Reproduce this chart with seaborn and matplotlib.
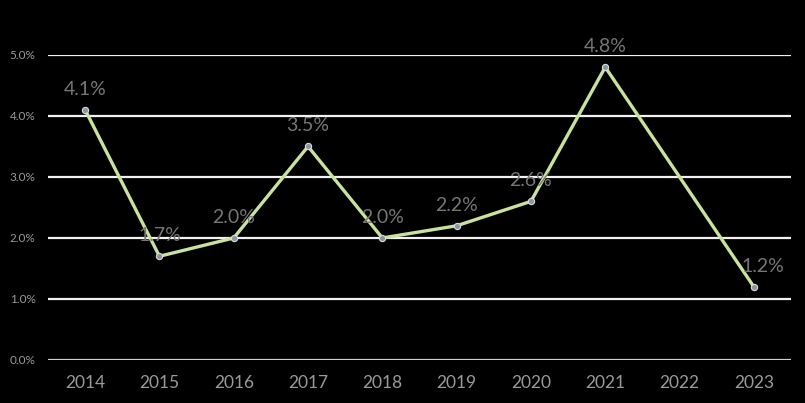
import numpy as np
import pandas as pd
import matplotlib
matplotlib.use("Agg")
import matplotlib.pyplot as plt
import seaborn as sns

# data (2022 has no point, line runs straight through)
years = [2014, 2015, 2016, 2017, 2018, 2019, 2020, 2021, 2022, 2023]
rates = [4.1, 1.7, 2.0, 3.5, 2.0, 2.2, 2.6, 4.8, None, 1.2]
y_ticks = [0.0, 1.0, 2.0, 3.0, 4.0, 5.0]

df = pd.DataFrame({"year": years, "rate": rates})
pts = df.dropna().copy()
pts["pos"] = [years.index(y) for y in pts["year"]]

sns.set_theme(style="dark")
plt.rcParams["font.family"] = ["Lato", "DejaVu Sans"]

fig = plt.figure(figsize=(8.05, 4.03), dpi=100, facecolor="black")
ax = fig.add_axes([0.0596, 0.1067, 0.923, 0.757])
ax.set_facecolor("black")

# gridlines
for t in y_ticks:
    ax.axhline(t, color="#f2f2f2" if t > 0 else "#d0d0d0", lw=1.6, zorder=1)

sns.lineplot(data=pts, x="pos", y="rate", ax=ax, color="#c9e29e", lw=2.4,
             marker="o", markersize=4.5, markerfacecolor="#8c96a0",
             markeredgecolor="#d8dde2", markeredgewidth=0.8, zorder=3)

for _, r in pts.iterrows():
    dx = 0.12 if r["year"] == 2023 else 0.0
    ax.text(r["pos"] + dx, r["rate"] + 0.2, f"{r['rate']:.1f}%",
            ha="center", va="bottom", color="#767676", fontsize=14,
            clip_on=False, zorder=4)

ax.set_xlim(-0.5, len(years) - 0.5)
ax.set_ylim(0, 5.0)
ax.set_xticks(range(len(years)))
ax.set_xticklabels([str(y) for y in years], color="#9a9a9a", fontsize=12.5)
ax.set_yticks(y_ticks)
ax.set_yticklabels([f"{t:.1f}%" for t in y_ticks], color="#9a9a9a", fontsize=8.5)
ax.tick_params(axis="x", length=0, pad=11)
ax.tick_params(axis="y", length=0, pad=9)
ax.set_xlabel("")
ax.set_ylabel("")
ax.grid(False)
for s in ax.spines.values():
    s.set_visible(False)

fig.savefig("out.png", dpi=100, facecolor="black")
